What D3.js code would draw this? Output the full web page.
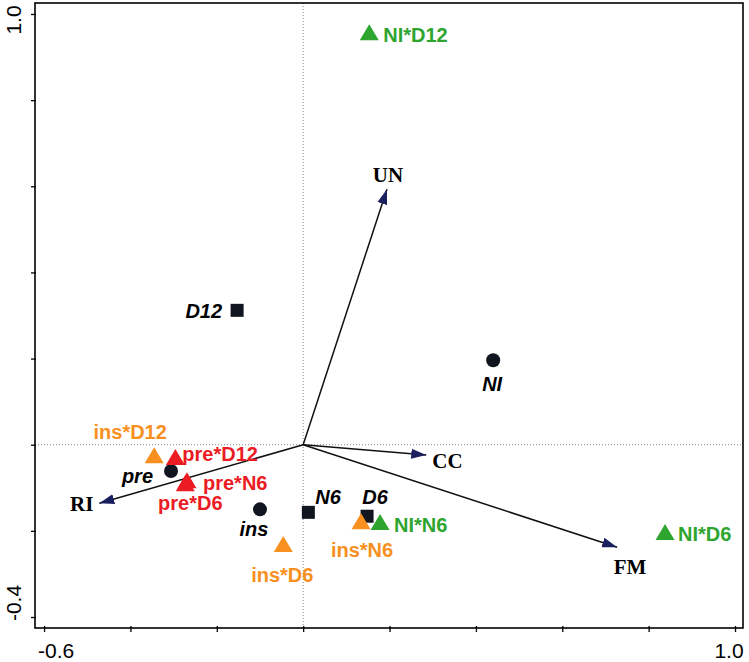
<!DOCTYPE html>
<html><head><meta charset="utf-8">
<script src="https://cdn.jsdelivr.net/npm/d3@7"></script>
<style>body{margin:0;background:#fff}</style>
</head><body><svg id="chart" width="749" height="662"></svg>
<script>
// ---------- data ----------
const centroidNames = ["pre", "ins", "NI"];
const centroidX = [-0.306, -0.100, 0.440];
const centroidY = [-0.061, -0.150, 0.196];

const periodNames = ["D12", "N6", "D6"];
const periodX = [-0.153, 0.012, 0.148];
const periodY = [0.312, -0.157, -0.166];

const interactionNames = ["NI*D12", "NI*N6", "NI*D6", "ins*D12", "ins*N6", "ins*D6", "pre*D12", "pre*N6", "pre*D6"];
const interactionGroup = ["NI", "NI", "NI", "ins", "ins", "ins", "pre", "pre", "pre"];
const interactionX = [0.153, 0.178, 0.838, -0.345, 0.134, -0.046, -0.296, -0.269, -0.273];
const interactionY = [0.955, -0.182, -0.205, -0.027, -0.180, -0.233, -0.031, -0.085, -0.092];

const vectorNames = ["UN", "CC", "FM", "RI"];
const vectorX = [0.194, 0.285, 0.727, -0.472];
const vectorY = [0.593, -0.024, -0.238, -0.136];

const xTickValues = [-0.6, -0.4, -0.2, 0, 0.2, 0.4, 0.6, 0.8, 1.0];
const yTickValues = [-0.4, -0.2, 0, 0.2, 0.4, 0.6, 0.8, 1.0];
const xTickLabels = [[-0.6, "-0.6"], [1.0, "1.0"]];
const yTickLabels = [[-0.4, "-0.4"], [1.0, "1.0"]];

// ---------- layout / style ----------
const groupColor = {NI: "#2ea52e", ins: "#f7901e", pre: "#ec1c24"};
const markColor = "#10151f";
const arrowHeadColor = "#1b1f5e";
// label offsets [dx, dy, anchor]
const labelOffset = {
  "pre": [-18, 5, "end"], "ins": [-6, 20, "middle"], "NI": [-1, 24, "middle"],
  "D12": [-15, 1, "end"], "N6": [7, -15, "start"], "D6": [8, -19, "middle"],
  "NI*D12": [14, 2, "start"], "NI*N6": [14, 2, "start"], "NI*D6": [13, 1, "start"],
  "ins*D12": [-24, -24, "middle"], "ins*N6": [1, 28, "middle"], "ins*D6": [-1, 30, "middle"],
  "pre*D12": [7, -4, "start"], "pre*N6": [16, 2, "start"], "pre*D6": [5, 19, "middle"],
  "UN": [1, -14, "middle"], "CC": [6, 6, "start"], "FM": [13, 20, "middle"], "RI": [-6, 1, "end"]
};

const svg = d3.select("#chart");
const x = d3.scaleLinear().domain([-0.621, 1.0185]).range([35, 743]);
const y = d3.scaleLinear().domain([-0.4255, 1.0255]).range([628, 3]);

// zero lines
svg.append("line").attr("x1", x(0)).attr("x2", x(0)).attr("y1", y.range()[1]).attr("y2", y.range()[0])
  .attr("stroke", "#888").attr("stroke-width", 1).attr("stroke-dasharray", "1,2");
svg.append("line").attr("x1", x.range()[0]).attr("x2", x.range()[1]).attr("y1", y(0)).attr("y2", y(0))
  .attr("stroke", "#888").attr("stroke-width", 1).attr("stroke-dasharray", "1,2");

// frame
svg.append("rect").attr("x", 35).attr("y", 3).attr("width", 708).attr("height", 625)
  .attr("fill", "none").attr("stroke", "#000").attr("stroke-width", 1.6);

// axes ticks
const xAxis = svg.append("g").attr("transform", `translate(0,${y.range()[0]})`)
  .call(d3.axisBottom(x).tickValues(xTickValues).tickSize(4).tickFormat(""));
xAxis.select(".domain").remove();
xAxis.selectAll(".tick line").attr("y1", -2).attr("stroke-width", 1.3);
const yAxis = svg.append("g").attr("transform", `translate(${x.range()[0]},0)`)
  .call(d3.axisLeft(y).tickValues(yTickValues).tickSize(4).tickFormat(""));
yAxis.select(".domain").remove();
yAxis.selectAll(".tick line").attr("x1", 1).attr("stroke-width", 1.3);

// tick labels
svg.selectAll(".xlab").data(xTickLabels).enter().append("text")
  .attr("x", d => x(d[0]) + (d[0] < 0 ? 12 : -6)).attr("y", 658)
  .attr("text-anchor", "middle").attr("font-family", "Liberation Sans, Arial, sans-serif")
  .attr("font-size", 21).text(d => d[1]);
svg.selectAll(".ylab").data(yTickLabels).enter().append("text")
  .attr("transform", d => `translate(21,${y(d[0]) + (d[0] < 0 ? -14 : 6)}) rotate(-90)`)
  .attr("text-anchor", "middle").attr("font-family", "Liberation Sans, Arial, sans-serif")
  .attr("font-size", 21).text(d => d[1]);

// arrow marker
svg.append("defs").append("marker").attr("id", "ah")
  .attr("markerUnits", "userSpaceOnUse").attr("markerWidth", 16).attr("markerHeight", 12)
  .attr("viewBox", "0 0 16 12").attr("refX", 15).attr("refY", 6).attr("orient", "auto")
  .append("path").attr("d", "M0,1 L15,6 L0,11 Z").attr("fill", arrowHeadColor);

const vectors = vectorNames.map((n, i) => ({name: n, x: vectorX[i], y: vectorY[i]}));
svg.selectAll(".vec").data(vectors).enter().append("line")
  .attr("x1", x(0)).attr("y1", y(0)).attr("x2", d => x(d.x)).attr("y2", d => y(d.y))
  .attr("stroke", "#111").attr("stroke-width", 1.5).attr("marker-end", "url(#ah)");
svg.selectAll(".veclab").data(vectors).enter().append("text")
  .attr("x", d => x(d.x) + labelOffset[d.name][0]).attr("y", d => y(d.y) + labelOffset[d.name][1])
  .attr("text-anchor", d => labelOffset[d.name][2]).attr("dominant-baseline", "central")
  .attr("font-family", "Liberation Serif, Times New Roman, serif").attr("font-weight", "bold")
  .attr("font-size", 21).attr("fill", "#000").text(d => d.name);

// points
const centroids = centroidNames.map((n, i) => ({name: n, x: centroidX[i], y: centroidY[i]}));
const periods = periodNames.map((n, i) => ({name: n, x: periodX[i], y: periodY[i]}));
const inter = interactionNames.map((n, i) => ({name: n, g: interactionGroup[i], x: interactionX[i], y: interactionY[i]}));

svg.selectAll(".cen").data(centroids).enter().append("circle")
  .attr("cx", d => x(d.x)).attr("cy", d => y(d.y)).attr("r", 7).attr("fill", markColor);
svg.selectAll(".per").data(periods).enter().append("rect")
  .attr("x", d => x(d.x) - 6.5).attr("y", d => y(d.y) - 6.5).attr("width", 13).attr("height", 13)
  .attr("fill", markColor);
svg.selectAll(".int").data(inter).enter().append("path")
  .attr("transform", d => `translate(${x(d.x)},${y(d.y)})`)
  .attr("d", "M0,-9 L9.5,7 L-9.5,7 Z").attr("fill", d => groupColor[d.g]);

// labels
svg.selectAll(".blab").data(centroids.concat(periods)).enter().append("text")
  .attr("x", d => x(d.x) + labelOffset[d.name][0]).attr("y", d => y(d.y) + labelOffset[d.name][1])
  .attr("text-anchor", d => labelOffset[d.name][2]).attr("dominant-baseline", "central")
  .attr("font-family", "Liberation Sans, Arial, sans-serif").attr("font-weight", "bold")
  .attr("font-style", "italic").attr("font-size", 20).attr("fill", "#000").text(d => d.name);
svg.selectAll(".ilab").data(inter).enter().append("text")
  .attr("x", d => x(d.x) + labelOffset[d.name][0]).attr("y", d => y(d.y) + labelOffset[d.name][1])
  .attr("text-anchor", d => labelOffset[d.name][2]).attr("dominant-baseline", "central")
  .attr("font-family", "Liberation Sans, Arial, sans-serif").attr("font-weight", "bold")
  .attr("font-size", 20).attr("fill", d => groupColor[d.g]).text(d => d.name);
</script></body></html>
